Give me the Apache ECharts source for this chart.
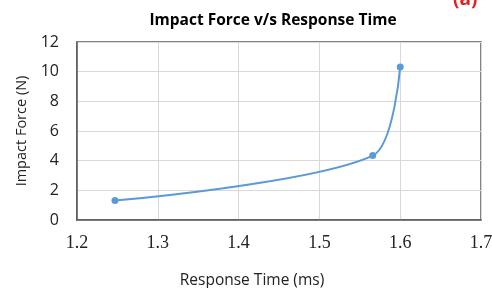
<!DOCTYPE html>
<html><head><meta charset="utf-8">
<script src="https://cdn.jsdelivr.net/npm/echarts@6/dist/echarts.min.js"></script>
<style>html,body{margin:0;padding:0;background:#fff}#c{width:492px;height:288px}</style>
</head><body><div id="c"></div>
<script>
const responseTime = [1.247, 1.566, 1.600];
const impactForce = [1.31, 4.34, 10.32];
const xTicks = [1.2, 1.3, 1.4, 1.5, 1.6, 1.7];
const yTicks = [0, 2, 4, 6, 8, 10, 12];

const chart = echarts.init(document.getElementById('c'));
chart.setOption({
  animation: false,
  title: {
    text: 'Impact Force v/s Response Time', left: 268, top: 8, textAlign: 'center',
    textStyle: {fontFamily: 'Open Sans', fontWeight: 'bold', fontSize: 15.5, color: '#000'}
  },
  graphic: [{type: 'text', left: 453, top: -10, style: {text: '(a)', fill: '#e02020', font: 'bold 19px "Open Sans"'}}],
  grid: {left: 77, right: 11, top: 42, bottom: 68, containLabel: false, outerBoundsMode: 'none',
    show: true, borderColor: '#595959', borderWidth: 1.5, backgroundColor: 'transparent'},
  xAxis: {
    type: 'value', min: 1.2, max: 1.7, interval: 0.1,
    name: 'Response Time (ms)', nameLocation: 'middle', nameGap: 53,
    nameTextStyle: {fontFamily: 'Open Sans', fontSize: 15.5, color: '#222', padding: [0, 54, 0, 0]},
    axisLine: {show: true, lineStyle: {color: '#595959', width: 1.5}},
    axisTick: {show: false},
    axisLabel: {fontFamily: 'Liberation Serif', fontSize: 18, color: '#222', margin: 14,
      formatter: v => xTicks.find(t => Math.abs(t - v) < 1e-6)?.toFixed(1) ?? ''},
    splitLine: {show: true, lineStyle: {color: '#d9d9d9', width: 1}}
  },
  yAxis: {
    type: 'value', min: 0, max: 12, interval: 2,
    name: 'Impact Force (N)', nameLocation: 'middle', nameGap: 47,
    nameTextStyle: {fontFamily: 'Open Sans', fontSize: 14.5, color: '#222'},
    axisLine: {show: true, lineStyle: {color: '#595959', width: 1.5}},
    axisTick: {show: false},
    axisLabel: {fontFamily: 'Open Sans', fontSize: 16, color: '#222', margin: 18,
      formatter: v => yTicks.includes(v) ? String(v) : ''},
    splitLine: {show: true, lineStyle: {color: '#d9d9d9', width: 1}}
  },
  series: [{
    type: 'line', smooth: 0.28,
    data: responseTime.map((x, i) => [x, impactForce[i]]),
    symbol: 'circle', symbolSize: 7,
    lineStyle: {color: '#5b9bd5', width: 2},
    itemStyle: {color: '#5b9bd5'}
  }]
});
</script></body></html>
